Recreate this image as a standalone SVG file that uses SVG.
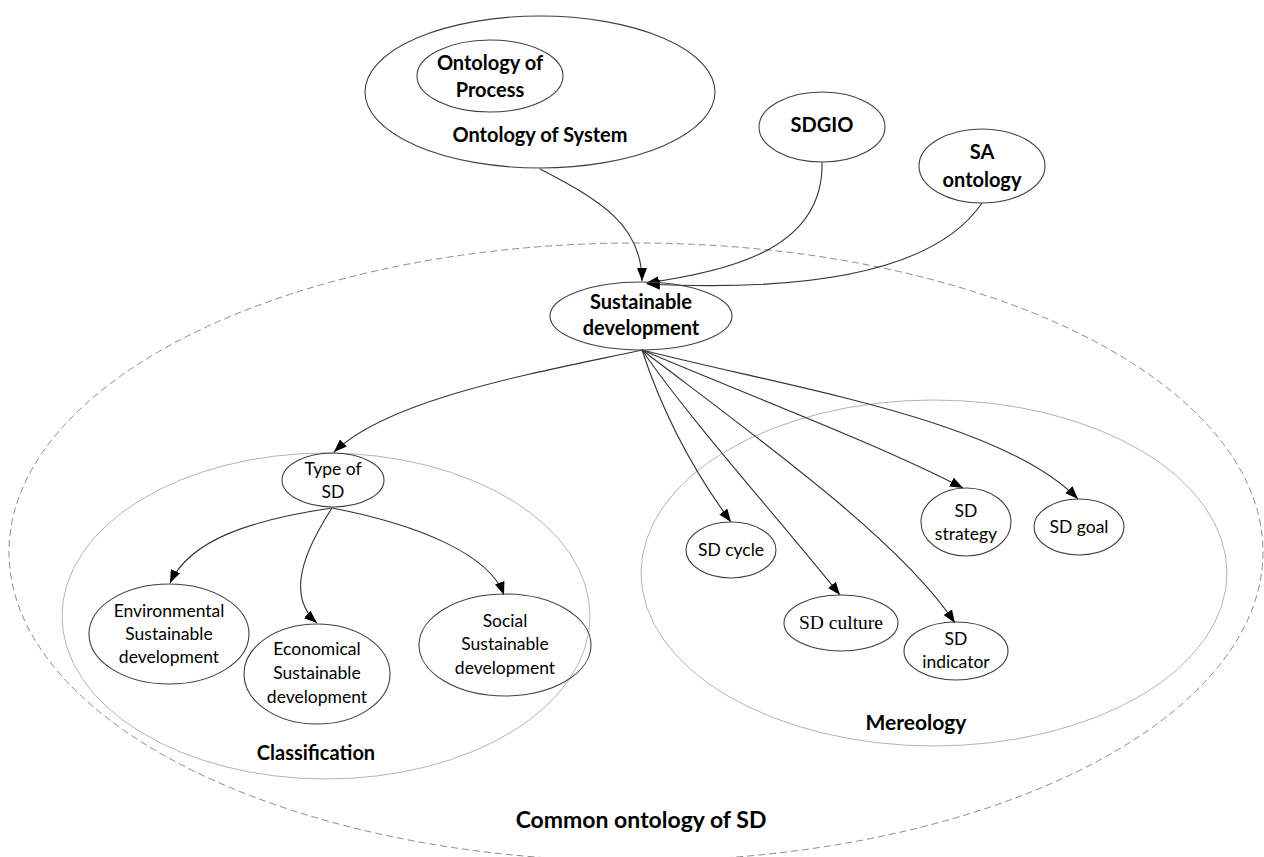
<svg xmlns="http://www.w3.org/2000/svg" width="1264" height="857" viewBox="0 0 1264 857">
<style>
.node{fill:none;stroke:#404040;stroke-width:1.1}
.grp{fill:none;stroke:#b4b4b4;stroke-width:1}
.outer{fill:none;stroke:#8c8c8c;stroke-width:1;stroke-dasharray:7 4}
.edge{fill:none;stroke:#333;stroke-width:1.1;marker-end:url(#arr)}
.b{font-family:Lato,"Liberation Sans",sans-serif;font-weight:bold;font-size:20px;fill:#000;text-anchor:middle}
.r{font-family:Lato,"Liberation Sans",sans-serif;font-size:17.5px;fill:#000;text-anchor:middle}
.s{font-family:"Liberation Serif","DejaVu Serif",serif;font-size:19.5px;fill:#000;text-anchor:middle}
</style>
<defs>
<marker id="arr" markerUnits="userSpaceOnUse" markerWidth="14" markerHeight="10" refX="13" refY="5" orient="auto">
<path d="M0,0 L13,5 L0,10 z" fill="#000"/>
</marker>
</defs>
<rect width="1264" height="857" fill="#fff"/>
<g id="containers">
<ellipse id="common" class="outer" cx="636" cy="552" rx="627" ry="309"/>
<ellipse id="classification" class="grp" cx="326" cy="616" rx="264" ry="163"/>
<ellipse id="mereology" class="grp" cx="934" cy="573" rx="293" ry="173"/>
<text class="b" x="316" y="760">Classification</text>
<text class="b" x="916" y="730" style="font-size:21px">Mereology</text>
<text class="b" x="641" y="828" style="font-size:23px">Common ontology of SD</text>
</g>
<g id="connectors">
<path class="edge" d="M540,169 C600,200 642,225 642,281"/>
<path class="edge" d="M822,162 C824,245 740,270 646,283"/>
<path class="edge" d="M982,203 C935,272 810,292 647,284"/>
<path class="edge" d="M642,350 C540,372 390,398 334,452"/>
<path class="edge" d="M332,508 C250,520 190,540 170,583"/>
<path class="edge" d="M332,508 C305,550 285,595 317,623"/>
<path class="edge" d="M332,508 C420,525 490,555 504,595"/>
<path class="edge" d="M642,350 C665,420 700,480 731,522"/>
<path class="edge" d="M642,350 C690,420 780,520 840,595"/>
<path class="edge" d="M642,350 C760,440 900,540 955,623"/>
<path class="edge" d="M642,350 C760,400 880,445 963,488"/>
<path class="edge" d="M642,350 C800,390 1000,420 1078,499"/>
</g>
<g id="node-system">
<ellipse class="node" cx="540" cy="92" rx="175" ry="76"/>
<text class="b" x="540" y="142">Ontology of System</text>
</g>
<g id="node-process">
<ellipse class="node" cx="490" cy="76" rx="73" ry="36"/>
<text class="b" x="490" y="70">Ontology of</text>
<text class="b" x="490" y="97">Process</text>
</g>
<g id="node-sdgio">
<ellipse class="node" cx="822" cy="127" rx="63" ry="35"/>
<text class="b" x="822" y="132">SDGIO</text>
</g>
<g id="node-sa">
<ellipse class="node" cx="982" cy="166" rx="63" ry="37"/>
<text class="b" x="982" y="159">SA</text>
<text class="b" x="982" y="187">ontology</text>
</g>
<g id="node-sd">
<ellipse class="node" cx="641" cy="316" rx="91" ry="34"/>
<text class="b" x="641" y="309">Sustainable</text>
<text class="b" x="641" y="335">development</text>
</g>
<g id="node-type">
<ellipse class="node" cx="333" cy="480" rx="51" ry="27"/>
<text class="r" x="333" y="475">Type of</text>
<text class="r" x="333" y="498">SD</text>
</g>
<g id="node-env">
<ellipse class="node" cx="169" cy="634" rx="80" ry="50"/>
<text class="r" x="169" y="617">Environmental</text>
<text class="r" x="169" y="640">Sustainable</text>
<text class="r" x="169" y="663">development</text>
</g>
<g id="node-eco">
<ellipse class="node" cx="317" cy="674" rx="73" ry="50"/>
<text class="r" x="317" y="655">Economical</text>
<text class="r" x="317" y="679">Sustainable</text>
<text class="r" x="317" y="703">development</text>
</g>
<g id="node-soc">
<ellipse class="node" cx="505" cy="645" rx="86" ry="51"/>
<text class="r" x="505" y="627">Social</text>
<text class="r" x="505" y="650">Sustainable</text>
<text class="r" x="505" y="674">development</text>
</g>
<g id="node-cycle">
<ellipse class="node" cx="731" cy="550" rx="45" ry="28"/>
<text class="r" x="731" y="556">SD cycle</text>
</g>
<g id="node-culture">
<ellipse class="node" cx="841" cy="623" rx="57" ry="28"/>
<text class="s" x="841" y="629">SD culture</text>
</g>
<g id="node-indicator">
<ellipse class="node" cx="956" cy="651" rx="52" ry="29"/>
<text class="r" x="956" y="645">SD</text>
<text class="r" x="956" y="668">indicator</text>
</g>
<g id="node-strategy">
<ellipse class="node" cx="966" cy="522" rx="45" ry="34"/>
<text class="r" x="966" y="517">SD</text>
<text class="r" x="966" y="540">strategy</text>
</g>
<g id="node-goal">
<ellipse class="node" cx="1079" cy="527" rx="45" ry="28"/>
<text class="r" x="1079" y="533">SD goal</text>
</g>
</svg>
